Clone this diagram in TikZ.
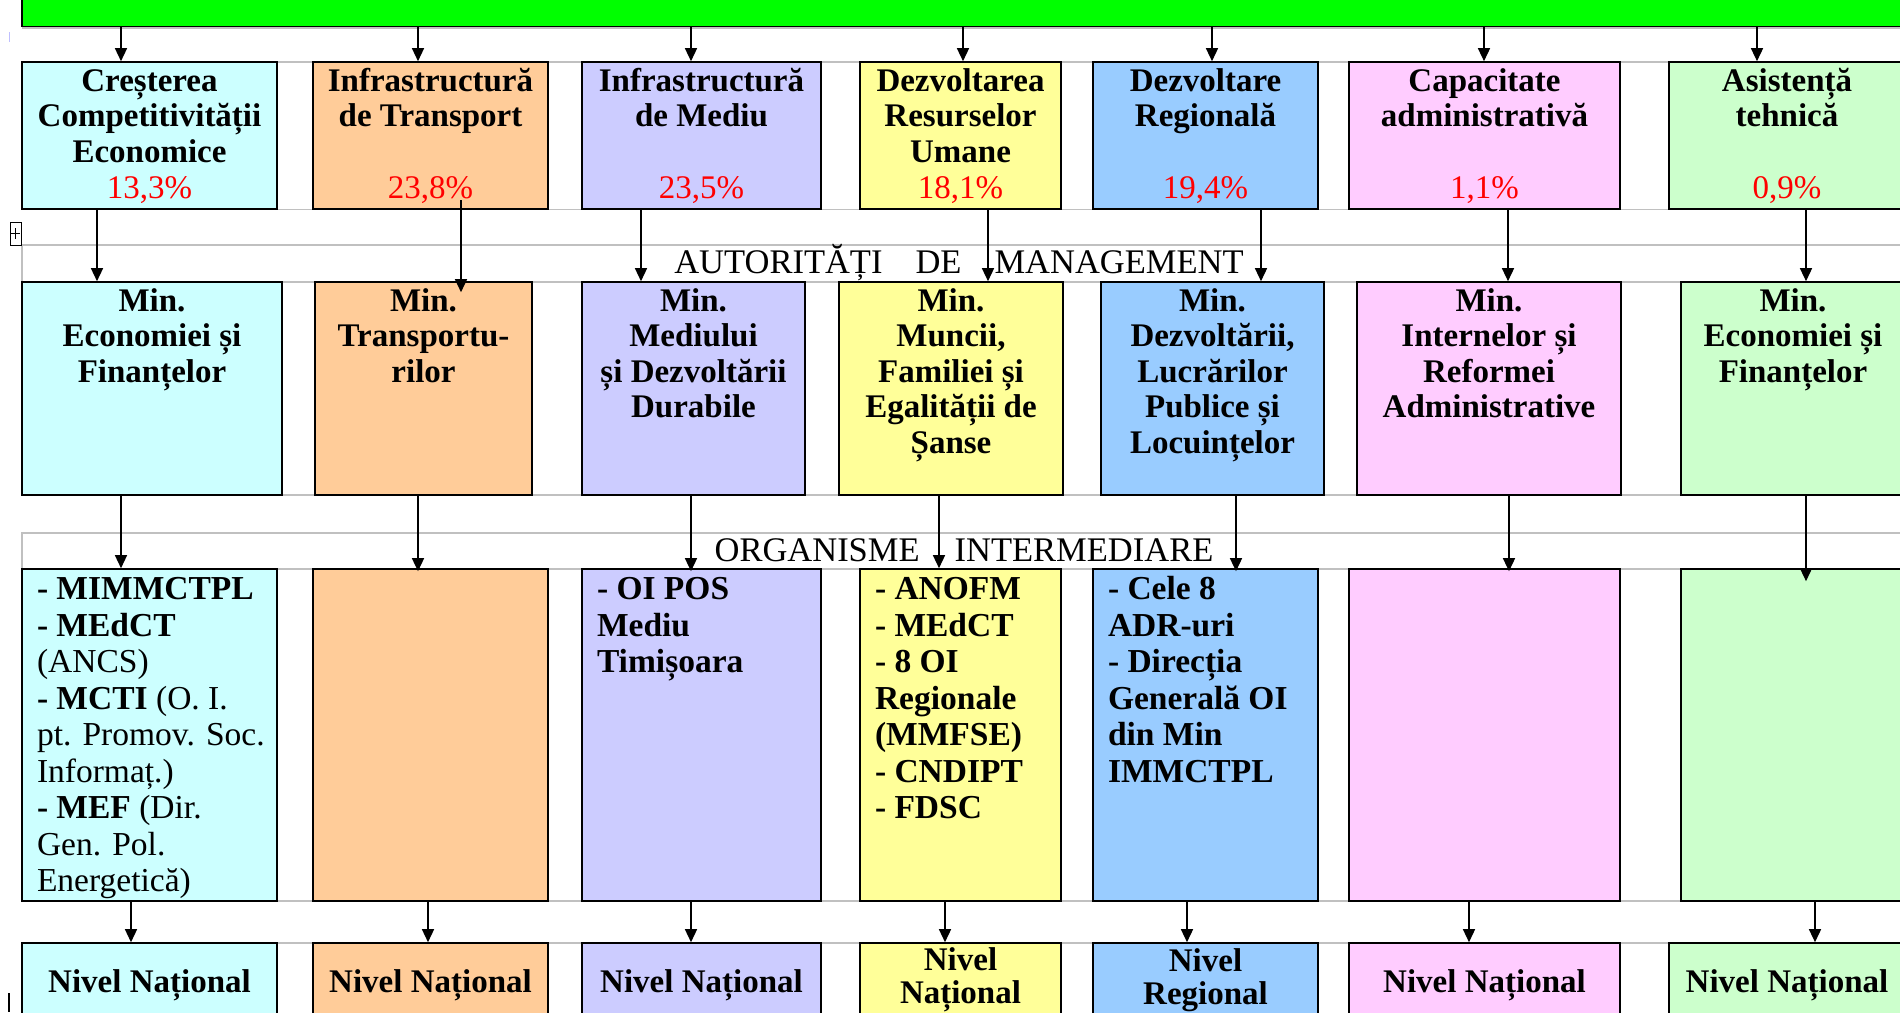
\documentclass[tikz,border=0pt]{standalone}
\usepackage{fontspec}
\setmainfont{Liberation Serif}
\usetikzlibrary{arrows.meta,calc}
\definecolor{barg}{HTML}{00FF00}
\definecolor{gridg}{HTML}{C0C0C0}
\definecolor{cyanb}{HTML}{CCFFFF}
\definecolor{orangeb}{HTML}{FFCC99}
\definecolor{lilacb}{HTML}{CCCCFF}
\definecolor{yellowb}{HTML}{FFFF99}
\definecolor{blueb}{HTML}{99CCFF}
\definecolor{pinkb}{HTML}{FFCCFF}
\definecolor{greenb}{HTML}{CCFFCC}
\newcommand{\procent}[1]{\textcolor{red}{\mdseries #1}}
\begin{document}
\begin{tikzpicture}[x=1pt,y=-1pt,
    prbox/.style n args={3}{draw, line width=1.6pt, fill=#1, inner sep=0pt,
      font=\fontsize{33}{35.5}\selectfont\bfseries,
      execute at begin node={\begin{minipage}[t][#3][t]{#2}\centering\rule{0pt}{29pt}},
      execute at end node={\strut\end{minipage}}},
    oibox/.style n args={3}{draw, line width=1.6pt, fill=#1, inner sep=0pt,
      font=\fontsize{33.5}{36.5}\selectfont,
      execute at begin node={\begin{minipage}[t][#3][t]{#2}\raggedright\leftskip=15pt\rule{0pt}{30.5pt}},
      execute at end node={\strut\end{minipage}}},
    nvbox/.style={draw, line width=1.6pt, fill=#1, inner sep=0pt, minimum height=84pt,
      align=center, font=\fontsize{33}{33}\selectfont\bfseries},
    hdrband/.style={draw=gridg, line width=1.5pt},
    hdrtext/.style={font=\fontsize{34.5}{36}\selectfont, inner sep=0pt},
    arr/.style={-{Triangle[length=13pt,width=12pt]}, line width=1.4pt}]
  \useasboundingbox (0,0) rectangle (1900,1012);
  \draw[hdrband] (22,28) -- (1930,28) (22,62) -- (1930,62) (22,209.5) -- (1930,209.5)
    (22,495) -- (1930,495) (22,901) -- (1930,901) (22,943) -- (1930,943);
  \draw[hdrband] (22,245) rectangle (1930,282) (22,533) rectangle (1930,569);
  \draw[line width=1pt] (10,222) rectangle (21,245) (15.5,228) -- (15.5,239) (11,233.5) -- (20,233.5);
  \draw[blue!25, line width=1pt] (9.5,32) -- (9.5,42);
  \draw[line width=1.2pt] (9,993) -- (9,1012);
  \node[draw, fill=barg, line width=1.6pt, minimum width=1920pt, minimum height=40pt, inner sep=0pt] (bar) at (982,6.5) {};
  \node[hdrtext] (amtxt) at (959,263) {AUTORITĂȚI\hspace{33pt}DE\hspace{33pt}MANAGEMENT};
  \node[hdrtext] (oitxt) at (964,550) {ORGANISME\hspace{35pt}INTERMEDIARE};
  \path
    (149.5,135.5) node[prbox={cyanb}{255pt}{147pt}] (p1) {Creșterea\\Competitivității\\Economice\par\vfill\procent{13,3\%}}
    (430.5,135.5) node[prbox={orangeb}{235pt}{147pt}] (p2) {Infrastructură\\de Transport\par\vfill\procent{23,8\%}}
    (701.5,135.5) node[prbox={lilacb}{239pt}{147pt}] (p3) {Infrastructură\\de Mediu\par\vfill\procent{23,5\%}}
    (960.5,135.5) node[prbox={yellowb}{201pt}{147pt}] (p4) {Dezvoltarea\\Resurselor\\Umane\par\vfill\procent{18,1\%}}
    (1205.5,135.5) node[prbox={blueb}{225pt}{147pt}] (p5) {Dezvoltare\\Regională\par\vfill\procent{19,4\%}}
    (1484.5,135.5) node[prbox={pinkb}{271pt}{147pt}] (p6) {Capacitate\\administrativă\par\vfill\procent{1,1\%}}
    (1787,135.5) node[prbox={greenb}{236pt}{147pt}] (p7) {Asistență\\tehnică\par\vfill\procent{0,9\%}};
  \path
    (152,388.5) node[prbox={cyanb}{260pt}{213pt}] (m1) {Min.\\Economiei și\\Finanțelor}
    (423.5,388.5) node[prbox={orangeb}{217pt}{213pt}] (m2) {Min.\\Transportu-\\rilor}
    (693.5,388.5) node[prbox={lilacb}{223pt}{213pt}] (m3) {Min.\\Mediului\\și Dezvoltării\\Durabile}
    (951,388.5) node[prbox={yellowb}{224pt}{213pt}] (m4) {Min.\\Muncii,\\Familiei și\\Egalității de\\Șanse}
    (1212.5,388.5) node[prbox={blueb}{223pt}{213pt}] (m5) {Min.\\Dezvoltării,\\Lucrărilor\\Publice și\\Locuințelor}
    (1489,388.5) node[prbox={pinkb}{264pt}{213pt}] (m6) {Min.\\Internelor și\\Reformei\\Administrative}
    (1793,388.5) node[prbox={greenb}{224pt}{213pt}] (m7) {Min.\\Economiei și\\Finanțelor};
  \path
    (149.5,735) node[oibox={cyanb}{255pt}{332pt}] (o1) {\textbf{- MIMMCTPL}\\\textbf{- MEdCT}\\(ANCS)\\\textbf{- MCTI} (O. I.\\pt. Promov. Soc.\\Informaț.)\\\textbf{- MEF} (Dir.\\Gen. Pol.\\Energetică)}
    (430.5,735) node[oibox={orangeb}{235pt}{332pt}] (o2) {}
    (701.5,735) node[oibox={lilacb}{239pt}{332pt}] (o3) {\bfseries - OI POS\\Mediu\\Timișoara}
    (960.5,735) node[oibox={yellowb}{201pt}{332pt}] (o4) {\bfseries - ANOFM\\- MEdCT\\- 8 OI\\Regionale\\(MMFSE)\\- CNDIPT\\- FDSC}
    (1205.5,735) node[oibox={blueb}{225pt}{332pt}] (o5) {\bfseries - Cele 8\\ADR-uri\\- Direcția\\Generală OI\\din Min\\IMMCTPL}
    (1484.5,735) node[oibox={pinkb}{271pt}{332pt}] (o6) {}
    (1793,735) node[oibox={greenb}{224pt}{332pt}] (o7) {};
  \path
    (149.5,985) node[nvbox=cyanb, minimum width=255pt] (n1) {Nivel Național}
    (430.5,985) node[nvbox=orangeb, minimum width=235pt] (n2) {Nivel Național}
    (701.5,985) node[nvbox=lilacb, minimum width=239pt] (n3) {Nivel Național}
    (960.5,980) node[nvbox=yellowb, minimum width=201pt, minimum height=74pt] (n4) {Nivel\\Național}
    (1205.5,980) node[nvbox=blueb, minimum width=225pt, minimum height=74pt] (n5) {Nivel\\Regional}
    (1484.5,985) node[nvbox=pinkb, minimum width=271pt] (n6) {Nivel Național}
    (1787,985) node[nvbox=greenb, minimum width=236pt] (n7) {Nivel Național};
  \begin{scope}[arr]
    \draw (121,0 |- bar.south) -- (121,0 |- p1.north);
    \draw (418,0 |- bar.south) -- (418,0 |- p2.north);
    \draw (691,0 |- bar.south) -- (691,0 |- p3.north);
    \draw (963,0 |- bar.south) -- (963,0 |- p4.north);
    \draw (1212,0 |- bar.south) -- (1212,0 |- p5.north);
    \draw (1484,0 |- bar.south) -- (1484,0 |- p6.north);
    \draw (1757,0 |- bar.south) -- (1757,0 |- p7.north);
    \draw (97,0 |- p1.south) -- (97,0 |- m1.north);
    \draw (461,200) -- ($(461,0 |- m2.north)+(0,11)$);
    \draw (641,0 |- p3.south) -- (641,0 |- m3.north);
    \draw (988,0 |- p4.south) -- (988,0 |- m4.north);
    \draw (1261,0 |- p5.south) -- (1261,0 |- m5.north);
    \draw (1508,0 |- p6.south) -- (1508,0 |- m6.north);
    \draw (1806,0 |- p7.south) -- (1806,0 |- m7.north);
    \draw (121,0 |- m1.south) -- (121,0 |- o1.north);
    \draw (418,0 |- m2.south) -- ($(418,0 |- o2.north)+(0,3)$);
    \draw (691,0 |- m3.south) -- ($(691,0 |- o3.north)+(0,3)$);
    \draw (939,0 |- m4.south) -- (939,0 |- o4.north);
    \draw (1236,0 |- m5.south) -- ($(1236,0 |- o5.north)+(0,3)$);
    \draw (1509,0 |- m6.south) -- ($(1509,0 |- o6.north)+(0,3)$);
    \draw (1806,0 |- m7.south) -- ($(1806,0 |- o7.north)+(0,13)$);
    \draw (131,0 |- o1.south) -- (131,0 |- n1.north);
    \draw (428,0 |- o2.south) -- (428,0 |- n2.north);
    \draw (691,0 |- o3.south) -- (691,0 |- n3.north);
    \draw (945,0 |- o4.south) -- (945,0 |- n4.north);
    \draw (1187,0 |- o5.south) -- (1187,0 |- n5.north);
    \draw (1469,0 |- o6.south) -- (1469,0 |- n6.north);
    \draw (1815,0 |- o7.south) -- (1815,0 |- n7.north);
  \end{scope}
\end{tikzpicture}
\end{document}
